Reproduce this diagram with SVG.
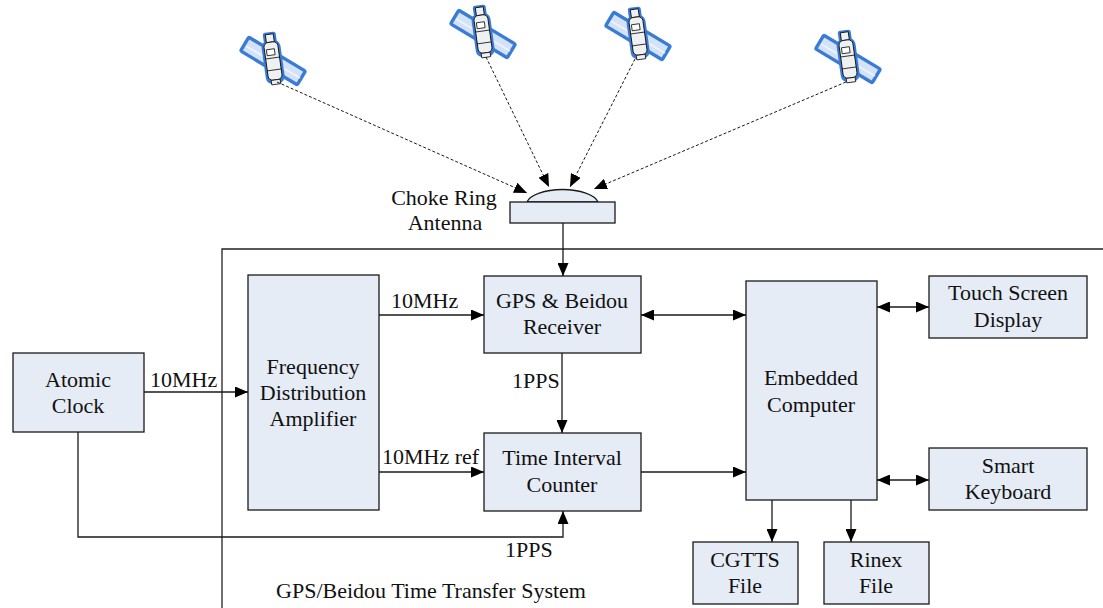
<svg xmlns="http://www.w3.org/2000/svg" width="1103" height="608" viewBox="0 0 1103 608">
  <style>
    .box { fill: #e6ecf6; stroke: #1a1a1a; stroke-width: 1.3; }
    .lbl { font-family: "Liberation Serif", "Times New Roman", serif; font-size: 22px; fill: #111; }
    .mid { text-anchor: middle; }
    .wire { fill: none; stroke: #1a1a1a; stroke-width: 1.3; }
    .ray { fill: none; stroke: #1a1a1a; stroke-width: 1; stroke-dasharray: 3 2; }
  </style>
  <defs>
    <marker id="arrow" markerUnits="userSpaceOnUse" markerWidth="13" markerHeight="11" refX="13" refY="5.5" orient="auto-start-reverse" viewBox="0 0 13 11">
      <path d="M0,0 L13,5.5 L0,11 Z" fill="#000"/>
    </marker>
    <!-- satellite icon: solar panel with a cylindrical bus -->
    <g id="satellite">
      <rect x="-33" y="-8" width="66" height="16" rx="1.5" transform="rotate(31)" fill="#d3e2f6" stroke="#3a7bd5" stroke-width="3.4"/>
      <line x1="-27" y1="-15" x2="27" y2="17" stroke="#f4f8fd" stroke-width="2" opacity="0.8"/>
      <g transform="rotate(-8)">
        <rect x="-9.5" y="-21" width="19" height="44" rx="7" fill="#3a7bd5"/>
        <rect x="-6.5" y="-29" width="13" height="11" rx="2.5" fill="#3a7bd5"/>
        <rect x="-4" y="-27" width="8" height="8" fill="#eef0f2" stroke="#111" stroke-width="0.9"/>
        <rect x="-7" y="-19" width="14" height="38" rx="4.5" fill="#eef0f2" stroke="#111" stroke-width="0.9"/>
        <rect x="-5" y="-12" width="8" height="6" fill="#fff" stroke="#111" stroke-width="0.8"/>
        <line x1="-7" y1="-3" x2="7" y2="-3" stroke="#111" stroke-width="0.8"/>
        <line x1="-7" y1="9" x2="7" y2="9" stroke="#111" stroke-width="0.8"/>
        <rect x="-4.5" y="19" width="9" height="4.5" fill="#eef0f2" stroke="#111" stroke-width="0.8"/>
      </g>
    </g>
  </defs>

  <rect width="1103" height="608" fill="#fff"/>

  <!-- satellites -->
  <g id="sat1"><use href="#satellite" transform="translate(273,61)"/></g>
  <g id="sat2"><use href="#satellite" transform="translate(483,34)"/></g>
  <g id="sat3"><use href="#satellite" transform="translate(638,36)"/></g>
  <g id="sat4"><use href="#satellite" transform="translate(848,59)"/></g>

  <!-- system boundary -->
  <g id="system-frame">
    <path d="M222,608 V249 H1103" fill="none" stroke="#222" stroke-width="1.3"/>
    <text class="lbl mid" x="431" y="598">GPS/Beidou Time Transfer System</text>
  </g>

  <!-- antenna -->
  <g id="antenna">
    <path d="M527,202 A36 15 0 0 1 598,202 Z" class="box"/>
    <rect x="510" y="202" width="105" height="21" class="box"/>
    <text class="lbl mid" x="444" y="205">Choke Ring</text>
    <text class="lbl mid" x="445" y="230">Antenna</text>
  </g>

  <g id="atomic-clock">
    <rect x="13" y="353" width="131" height="79" class="box"/>
    <text class="lbl mid" x="78" y="387">Atomic</text>
    <text class="lbl mid" x="78" y="413">Clock</text>
  </g>

  <g id="freq-dist-amp">
    <rect x="248" y="275" width="131" height="235" class="box"/>
    <text class="lbl mid" x="313" y="374">Frequency</text>
    <text class="lbl mid" x="313" y="400">Distribution</text>
    <text class="lbl mid" x="313" y="426">Amplifier</text>
  </g>

  <g id="receiver">
    <rect x="484" y="276" width="157" height="77" class="box"/>
    <text class="lbl mid" x="562" y="308">GPS &amp; Beidou</text>
    <text class="lbl mid" x="562" y="334">Receiver</text>
  </g>

  <g id="time-interval-counter">
    <rect x="484" y="433" width="157" height="78" class="box"/>
    <text class="lbl mid" x="562" y="465">Time Interval</text>
    <text class="lbl mid" x="562" y="492">Counter</text>
  </g>

  <g id="embedded-computer">
    <rect x="746" y="281" width="131" height="219" class="box"/>
    <text class="lbl mid" x="811" y="385">Embedded</text>
    <text class="lbl mid" x="811" y="412">Computer</text>
  </g>

  <g id="touch-screen">
    <rect x="929" y="276" width="158" height="62" class="box"/>
    <text class="lbl mid" x="1008" y="300">Touch Screen</text>
    <text class="lbl mid" x="1008" y="327">Display</text>
  </g>

  <g id="smart-keyboard">
    <rect x="929" y="448" width="158" height="62" class="box"/>
    <text class="lbl mid" x="1008" y="473">Smart</text>
    <text class="lbl mid" x="1008" y="499">Keyboard</text>
  </g>

  <g id="cgtts-file">
    <rect x="693" y="542" width="105" height="62" class="box"/>
    <text class="lbl mid" x="745" y="567">CGTTS</text>
    <text class="lbl mid" x="745" y="593">File</text>
  </g>

  <g id="rinex-file">
    <rect x="824" y="542" width="105" height="62" class="box"/>
    <text class="lbl mid" x="876" y="567">Rinex</text>
    <text class="lbl mid" x="876" y="593">File</text>
  </g>

  <!-- connectors -->
  <g id="connectors">
    <line class="ray" x1="277" y1="82" x2="527" y2="193" marker-end="url(#arrow)"/>
    <line class="ray" x1="486" y1="57" x2="549" y2="187" marker-end="url(#arrow)"/>
    <line class="ray" x1="635" y1="59" x2="570" y2="187" marker-end="url(#arrow)"/>
    <line class="ray" x1="846" y1="82" x2="594" y2="189" marker-end="url(#arrow)"/>

    <line class="wire" x1="563" y1="223" x2="563" y2="276" marker-end="url(#arrow)"/>
    <line class="wire" x1="144" y1="392" x2="248" y2="392" marker-end="url(#arrow)"/>
    <line class="wire" x1="379" y1="315" x2="484" y2="315" marker-end="url(#arrow)"/>
    <line class="wire" x1="379" y1="472" x2="484" y2="472" marker-end="url(#arrow)"/>
    <line class="wire" x1="562" y1="353" x2="562" y2="433" marker-end="url(#arrow)"/>
    <line class="wire" x1="641" y1="315" x2="746" y2="315" marker-start="url(#arrow)" marker-end="url(#arrow)"/>
    <line class="wire" x1="641" y1="472" x2="746" y2="472" marker-end="url(#arrow)"/>
    <line class="wire" x1="877" y1="307" x2="929" y2="307" marker-start="url(#arrow)" marker-end="url(#arrow)"/>
    <line class="wire" x1="877" y1="480" x2="929" y2="480" marker-start="url(#arrow)" marker-end="url(#arrow)"/>
    <line class="wire" x1="772" y1="500" x2="772" y2="542" marker-end="url(#arrow)"/>
    <line class="wire" x1="851" y1="500" x2="851" y2="542" marker-end="url(#arrow)"/>
    <polyline class="wire" points="78,432 78,537 563,537 563,511" marker-end="url(#arrow)"/>

    <text class="lbl" x="150" y="387">10MHz</text>
    <text class="lbl" x="391" y="308">10MHz</text>
    <text class="lbl" x="382" y="464">10MHz ref</text>
    <text class="lbl" x="512" y="388">1PPS</text>
    <text class="lbl" x="505" y="557">1PPS</text>
  </g>
</svg>
